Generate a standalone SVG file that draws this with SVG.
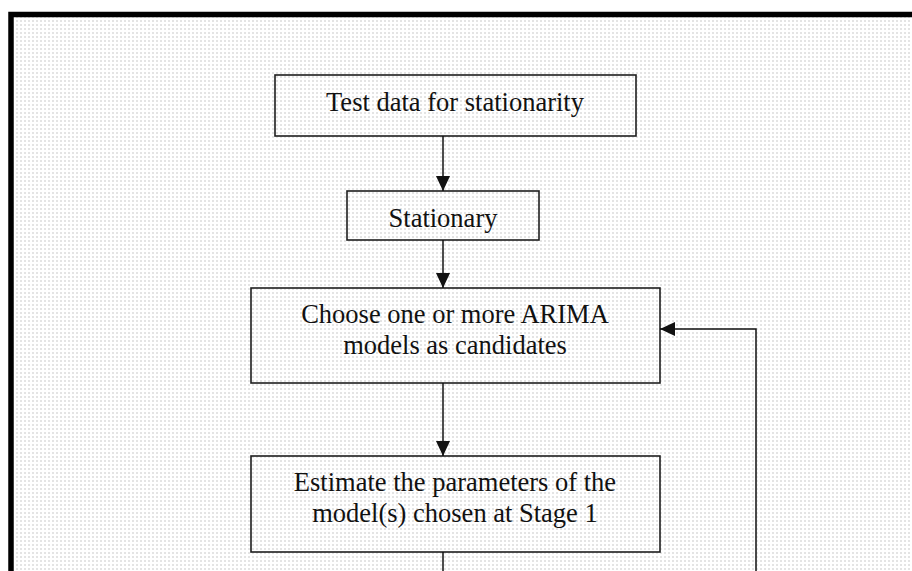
<svg xmlns="http://www.w3.org/2000/svg" width="912" height="571" viewBox="0 0 912 571">
  <defs>
    <pattern id="dots" x="0" y="0" width="4" height="4" patternUnits="userSpaceOnUse">
      <rect width="4" height="4" fill="#ffffff"/>
      <rect x="0" y="0" width="2" height="2" fill="#e4e4e4"/>
    </pattern>
    <marker id="arrow" viewBox="0 0 15 14" refX="15" refY="7" markerWidth="15" markerHeight="14" markerUnits="userSpaceOnUse" orient="auto">
      <path d="M0,0 L15,7 L0,14 Z" fill="#111"/>
    </marker>
    <style>
      .box { fill: none; stroke: #1e1e1e; stroke-width: 1.6; }
      .lbl { font-family: "Liberation Serif", "Times New Roman", serif; font-size: 26.5px; fill: #111; text-anchor: middle; }
      .conn { fill: none; stroke: #111; stroke-width: 1.5; marker-end: url(#arrow); }
    </style>
  </defs>

  <rect width="912" height="571" fill="#ffffff"/>
  <rect x="16" y="17" width="900" height="560" fill="url(#dots)"/>
  <rect x="11" y="14.5" width="910" height="570" fill="none" stroke="#000" stroke-width="5.5"/>

  <g id="node-test">
    <rect class="box" x="275" y="75" width="361" height="61"/>
    <text class="lbl" x="455" y="111">Test data for stationarity</text>
  </g>

  <g id="node-stationary">
    <rect class="box" x="347" y="191" width="192" height="49"/>
    <text class="lbl" x="443" y="227">Stationary</text>
  </g>

  <g id="node-choose">
    <rect class="box" x="251" y="288" width="409" height="95"/>
    <text class="lbl" x="455" y="323">Choose one or more ARIMA</text>
    <text class="lbl" x="455" y="354">models as candidates</text>
  </g>

  <g id="node-estimate">
    <rect class="box" x="251" y="456" width="409" height="96"/>
    <text class="lbl" x="455" y="491">Estimate the parameters of the</text>
    <text class="lbl" x="455" y="522">model(s) chosen at Stage 1</text>
  </g>

  <g id="connectors">
    <line class="conn" x1="443" y1="136" x2="443" y2="191"/>
    <line class="conn" x1="443" y1="240" x2="443" y2="288"/>
    <line class="conn" x1="443" y1="383" x2="443" y2="456"/>
    <line x1="443" y1="552" x2="443" y2="575" stroke="#111" stroke-width="1.5"/>
    <polyline class="conn" points="756,575 756,329 660,329"/>
  </g>
</svg>
